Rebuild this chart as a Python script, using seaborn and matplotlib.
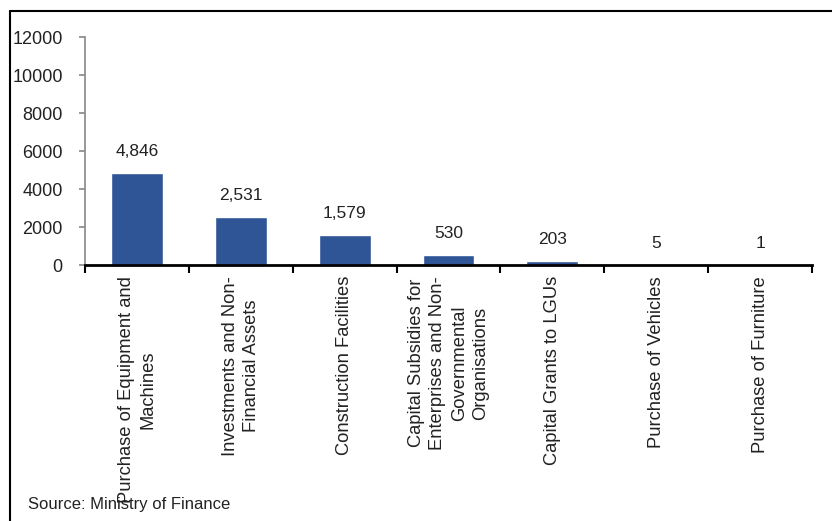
import matplotlib
matplotlib.use("Agg")
import matplotlib.pyplot as plt
import seaborn as sns
import pandas as pd
from matplotlib.lines import Line2D
from matplotlib.ticker import FixedLocator

categories = [
    "Purchase of Equipment and\nMachines",
    "Investments and Non-\nFinancial Assets",
    "Construction Facilities",
    "Capital Subsidies for\nEnterprises and Non-\nGovernmental\nOrganisations",
    "Capital Grants to LGUs",
    "Purchase of Vehicles",
    "Purchase of Furniture",
]
values = [4846, 2531, 1579, 530, 203, 5, 1]
yticks = [0, 2000, 4000, 6000, 8000, 10000, 12000]
source = "Source: Ministry of Finance"

sns.set_theme(style="white")
plt.rcParams['font.family'] = ['Liberation Sans', 'DejaVu Sans']

df = pd.DataFrame({"cat": categories, "val": values})

fig = plt.figure(figsize=(8.32, 5.21), dpi=100)
ax = fig.add_axes([85/832, 1-265/521, (812-85)/832, (265-37)/521])

sns.barplot(data=df, x="cat", y="val", color="#2F5597", width=0.5, ax=ax, saturation=1)

ax.set_xlim(-0.5, len(categories)-0.5)
ax.set_ylim(0, 12000)
ax.set_yticks(yticks)
ax.set_yticklabels([str(t) for t in yticks], fontsize=13, color="#222222")
ax.set_xlabel("")
ax.set_ylabel("")

ax.set_xticks(range(len(categories)))
ax.set_xticklabels(categories, rotation=90, ha="center", va="top",
                   multialignment="center", fontsize=13.2, color="#222222",
                   linespacing=1.35)
ax.tick_params(axis="x", which="major", length=0, pad=8)
ax.xaxis.set_minor_locator(FixedLocator([i - 0.5 for i in range(len(categories)+1)]))
ax.tick_params(axis="x", which="minor", length=6, width=1.5, color="black", direction="out", bottom=True)
ax.tick_params(axis="y", which="major", length=4, width=1.2, color="#888888", direction="out", left=True, pad=12)

for s in ["top", "right"]:
    ax.spines[s].set_visible(False)
ax.spines["left"].set_color("#888888")
ax.spines["left"].set_linewidth(1.2)
ax.spines["bottom"].set_color("black")
ax.spines["bottom"].set_linewidth(2)

for i, v in enumerate(values):
    ax.annotate(f"{v:,}", xy=(i, v), xytext=(0, 10), textcoords="offset points",
                ha="center", va="bottom", fontsize=12.5, color="#222222")

fig.text(28/832, 1-505/521, source, fontsize=12, color="#222222", ha="left", va="center")

fig.add_artist(Line2D([10/832, 10/832], [0, 1-11/521], transform=fig.transFigure, color="black", lw=1.5))
fig.add_artist(Line2D([10/832, 1], [1-11/521, 1-11/521], transform=fig.transFigure, color="black", lw=1.5))

fig.savefig("out.png", dpi=100)
